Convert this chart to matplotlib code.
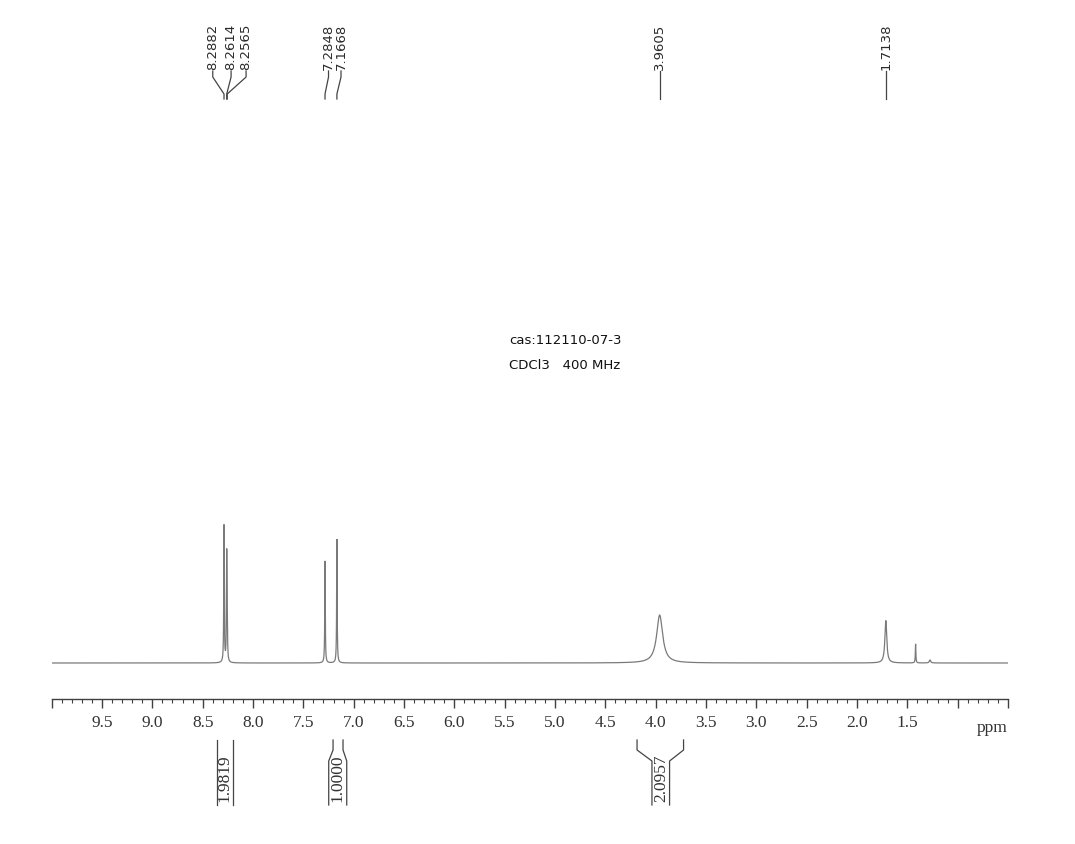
import numpy as np
import matplotlib
matplotlib.use("Agg")
import matplotlib.pyplot as plt
from matplotlib import transforms

# ---------------- data ----------------
peak_ppm = [8.2882, 8.2614, 8.2565, 7.2848, 7.1668, 3.9605, 1.7138, 1.418, 1.275]
peak_height = [100, 74, 30, 74.5, 90.5, 35, 31, 13.9, 2.2]
peak_hwhm = [0.003, 0.003, 0.003, 0.003, 0.003, 0.036, 0.011, 0.003, 0.008]

label_values = ["8.2882", "8.2614", "8.2565", "7.2848", "7.1668", "3.9605", "1.7138"]
label_peak_ppm = [8.2882, 8.2614, 8.2565, 7.2848, 7.1668, 3.9605, 1.7138]
label_text_ppm = [8.400, 8.218, 8.069, 7.250, 7.126, 3.9605, 1.7138]

integ_values = ["1.9819", "1.0000", "2.0957"]
integ_outer = [(8.362, 8.197), (7.205, 7.106), (4.185, 3.723)]
integ_inner = [(8.362, 8.197), (7.248, 7.069), (4.037, 3.862)]

tick_major = [10.0, 9.5, 9.0, 8.5, 8.0, 7.5, 7.0, 6.5, 6.0, 5.5, 5.0, 4.5,
              4.0, 3.5, 3.0, 2.5, 2.0, 1.5, 1.0, 0.5]
tick_labels = ["", "9.5", "9.0", "8.5", "8.0", "7.5", "7.0", "6.5", "6.0", "5.5",
               "5.0", "4.5", "4.0", "3.5", "3.0", "2.5", "2.0", "1.5", "", ""]

info_lines = ["cas:112110-07-3", "CDCl3   400 MHz"]

# ---------------- figure ----------------
W, H = 1075, 845
fig = plt.figure(figsize=(W / 100, H / 100), dpi=100)
fig.patch.set_facecolor("white")

x_left_px, x_right_px = 51.7, 1008.0
ax_bottom_px, ax_top_px = 700.0, 105.0
ax = fig.add_axes([x_left_px / W, 1 - ax_bottom_px / H,
                   (x_right_px - x_left_px) / W, (ax_bottom_px - ax_top_px) / H])

px_per_unit = 1.37
base_px = 664.0
ylo = -(ax_bottom_px - base_px) / px_per_unit
yhi = ylo + (ax_bottom_px - ax_top_px) / px_per_unit

x = np.linspace(10.0, 0.5, 60000)
y = np.zeros_like(x)
for p, h, w in zip(peak_ppm, peak_height, peak_hwhm):
    y += h / (1 + ((x - p) / w) ** 2)

ax.plot(x, y, color="#7a7a7a", lw=0.9, solid_joinstyle="miter")
ax.set_xlim(10.0, 0.5)
ax.set_ylim(ylo, yhi)

for s in ["top", "left", "right"]:
    ax.spines[s].set_visible(False)
ax.spines["bottom"].set_color("#404040")
ax.spines["bottom"].set_linewidth(1.0)
ax.set_yticks([])
ax.set_xticks(tick_major)
ax.set_xticklabels(tick_labels, fontfamily="Liberation Serif", fontsize=12.5, color="#333333")
ax.set_xticks(np.round(np.arange(10.0, 0.45, -0.1), 2), minor=True)
ax.tick_params(axis="x", which="major", direction="out", length=6.5, width=1.0,
               color="#404040", pad=4)
ax.tick_params(axis="x", which="minor", direction="out", length=3, width=0.8,
               color="#404040")
ax.text(0.5, -0.034, "ppm", transform=transforms.blended_transform_factory(ax.transData, ax.transAxes),
        ha="right", va="top", fontfamily="Liberation Serif", fontsize=12.5, color="#333333")

# blended transform: x in data ppm, y in figure fraction
bt = transforms.blended_transform_factory(ax.transData, fig.transFigure)
def fy(px):
    return 1 - px / H

# ---------------- peak labels ----------------
lc = "#444444"
for txt, pk, lx in zip(label_values, label_peak_ppm, label_text_ppm):
    ax.plot([lx, lx, pk, pk], [fy(72), fy(78), fy(95), fy(100)], transform=bt,
            color=lc, lw=0.9, clip_on=False)
    ax.text(lx, fy(70), txt, transform=bt, rotation=90, ha="center", va="bottom",
            fontfamily="DejaVu Sans", fontsize=9.5, color="#2a2a2a")

# ---------------- integrals ----------------
ic = "#444444"
for val, (o1, o2), (i1, i2) in zip(integ_values, integ_outer, integ_inner):
    for oa, ia in ((o1, i1), (o2, i2)):
        ax.plot([oa, oa, ia, ia], [fy(741), fy(751), fy(762), fy(806)], transform=bt,
                color=ic, lw=0.9, clip_on=False)
    ax.text((i1 + i2) / 2, fy(778), val, transform=bt, rotation=90, ha="center",
            va="center", fontfamily="Liberation Serif", fontsize=12.5, color="#333333")

# ---------------- info text ----------------
fig.text(509 / W, fy(341), info_lines[0], ha="left", va="center",
         fontfamily="DejaVu Sans", fontsize=9.5, color="#111111")
fig.text(509 / W, fy(366), info_lines[1], ha="left", va="center",
         fontfamily="DejaVu Sans", fontsize=9.5, color="#111111")

fig.savefig("out.png", dpi=100, facecolor="white")
